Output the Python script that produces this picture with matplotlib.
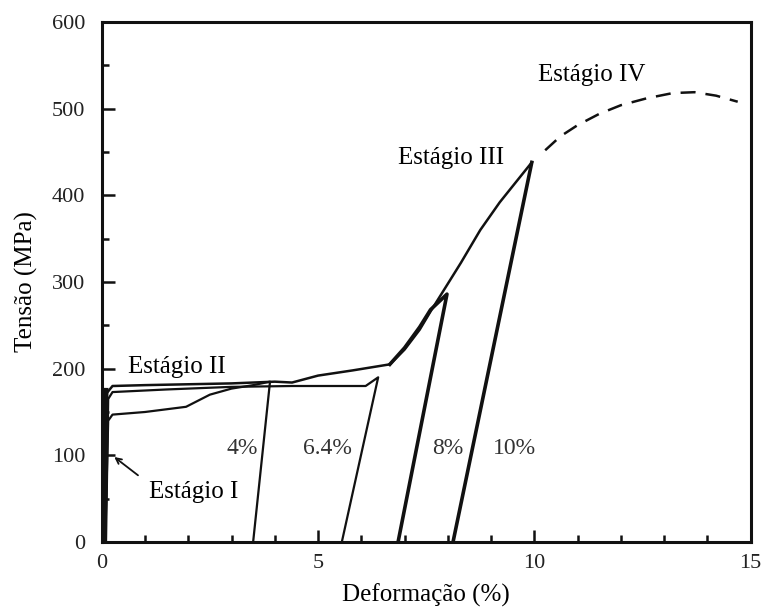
import matplotlib.pyplot as plt
from matplotlib.ticker import MultipleLocator

plt.rcParams['font.family'] = ['Liberation Serif', 'DejaVu Serif']

# curva envoltória (ensaio levado até 10%)
env_x = [0.05, 0.08, 0.12, 0.25, 1.0, 2.0, 3.0, 4.0, 4.4, 5.0, 5.8, 6.66,
         7.0, 7.35, 7.6, 7.9, 8.3, 8.75, 9.2, 9.65, 9.94]
env_s = [0, 120, 172, 180, 181, 182, 183, 185, 184, 192, 198, 205,
         222, 245, 266, 290, 322, 360, 392, 420, 438]

# ensaio até 4%, caminho inferior
c4_x = [0.08, 0.15, 0.25, 1.0, 1.95, 2.5, 3.0, 3.5, 3.89, 3.5]
c4_s = [0, 140, 147, 150, 156, 170, 177, 181, 185, 0]

# ensaio até 6.4%
c64_x = [0.1, 0.15, 0.25, 1.5, 3.0, 4.4, 5.5, 6.1, 6.39, 5.55]
c64_s = [0, 165, 173, 176, 179, 180, 180, 180, 190, 0]

# ensaio até 8%
c8_x = [6.66, 7.0, 7.35, 7.6, 7.98, 6.85]
c8_s = [205, 224, 248, 268, 286, 0]

# descarregamento a partir de 10%
d10_x = [9.94, 8.12]
d10_s = [438, 0]

# estágio IV (tracejado)
iv_x = [10.25, 10.6, 11.0, 11.5, 12.0, 12.6, 13.2, 13.7, 14.2, 14.7]
iv_s = [452, 468, 481, 494, 504, 512, 518, 519, 515, 508]

fig = plt.figure(figsize=(7.63, 6.09), dpi=100)
ax = fig.add_axes([101.7 / 763, 1 - 542 / 609, 649 / 763, 520 / 609])

ink = '#111111'
ax.plot(env_x, env_s, color=ink, lw=1.8)
ax.plot(c4_x, c4_s, color=ink, lw=1.6)
ax.plot(c64_x, c64_s, color=ink, lw=1.6)
ax.plot(c8_x, c8_s, color=ink, lw=2.6)
ax.plot(d10_x, d10_s, color=ink, lw=2.6)
ax.plot([0.06, 0.1], [0, 175], color=ink, lw=3.5)
ax.plot(iv_x, iv_s, color=ink, lw=1.8, ls=(0, (6, 4)))

ax.set_xlim(0, 15)
ax.set_ylim(0, 600)
ax.xaxis.set_major_locator(MultipleLocator(5))
ax.xaxis.set_minor_locator(MultipleLocator(1))
ax.yaxis.set_major_locator(MultipleLocator(100))
ax.yaxis.set_minor_locator(MultipleLocator(50))
ax.tick_params(which='both', direction='in', top=False, right=False,
               width=1.8, colors=ink, labelsize=16, labelcolor='#222222')
ax.tick_params(axis='y', which='major', length=9, pad=12)
ax.tick_params(axis='x', which='major', length=9, pad=9)
ax.tick_params(which='minor', length=5)
for sp in ax.spines.values():
    sp.set_linewidth(2.2)
    sp.set_color(ink)

ax.set_xlabel('Deformação (%)', fontsize=18, labelpad=7)
ax.set_ylabel('Tensão (MPa)', fontsize=18, labelpad=10)

fs = 18
ax.text(10.08, 539, 'Estágio IV', fontsize=fs, va='center', ha='left')
ax.text(6.85, 443, 'Estágio III', fontsize=fs, va='center', ha='left')
ax.text(0.61, 202, 'Estágio II', fontsize=fs, va='center', ha='left')
ax.text(1.09, 58, 'Estágio I', fontsize=fs, va='center', ha='left')
ax.annotate('', xy=(0.24, 100), xytext=(0.89, 75),
            arrowprops=dict(arrowstyle='->', color=ink, lw=1.3))

pct_x = [3.24, 5.21, 8.0, 9.55]
pct_lbl = ['4%', '6.4%', '8%', '10%']
for px, lbl in zip(pct_x, pct_lbl):
    ax.text(px, 108, lbl, fontsize=17, ha='center', va='center', color='#333333')

fig.savefig('out.png', dpi=100)
